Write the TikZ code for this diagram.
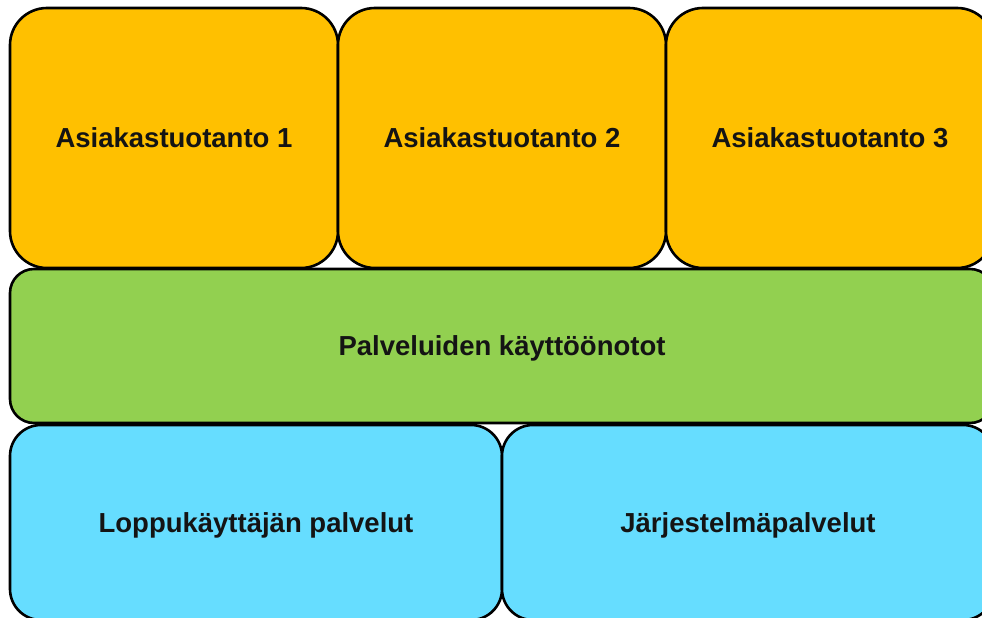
\documentclass[tikz,border=0pt]{standalone}
\usepackage{fontspec}
\setmainfont{Liberation Sans}
\definecolor{prodyellow}{RGB}{255,192,0}
\definecolor{deplgreen}{RGB}{146,208,80}
\definecolor{servblue}{RGB}{102,221,255}
\tikzset{
  layerbox/.style={draw=black, line width=2.6pt, rectangle, inner sep=0pt, outer sep=0pt,
    font=\fontsize{27.5}{31}\selectfont\bfseries, text=black!92,
    text height=19.8pt, text depth=-2.8pt},
  prodbox/.style={layerbox, fill=prodyellow, minimum width=328pt, minimum height=260pt, rounded corners=37pt},
  deplbox/.style={layerbox, fill=deplgreen, minimum width=984pt, minimum height=154pt, rounded corners=24pt},
  servbox/.style={layerbox, fill=servblue, minimum width=492pt, minimum height=195pt, rounded corners=31pt}
}
\begin{document}
\begin{tikzpicture}[x=1pt,y=-1pt]
\path[use as bounding box, fill=white] (0,0) rectangle (982,618);
\begin{scope}
\clip (0,0) rectangle (982,618);
\node[servbox] (loppu) at (256,522.5) {Loppukäyttäjän palvelut};
\node[servbox] (jarj) at (748,522.5) {Järjestelmäpalvelut};
\node[deplbox] (kaytto) at (502,346) {Palveluiden käyttöönotot};
\node[prodbox] (asi1) at (174,138) {Asiakastuotanto 1};
\node[prodbox] (asi2) at (502,138) {Asiakastuotanto 2};
\node[prodbox] (asi3) at (830,138) {Asiakastuotanto 3};
\end{scope}
\end{tikzpicture}
\end{document}
